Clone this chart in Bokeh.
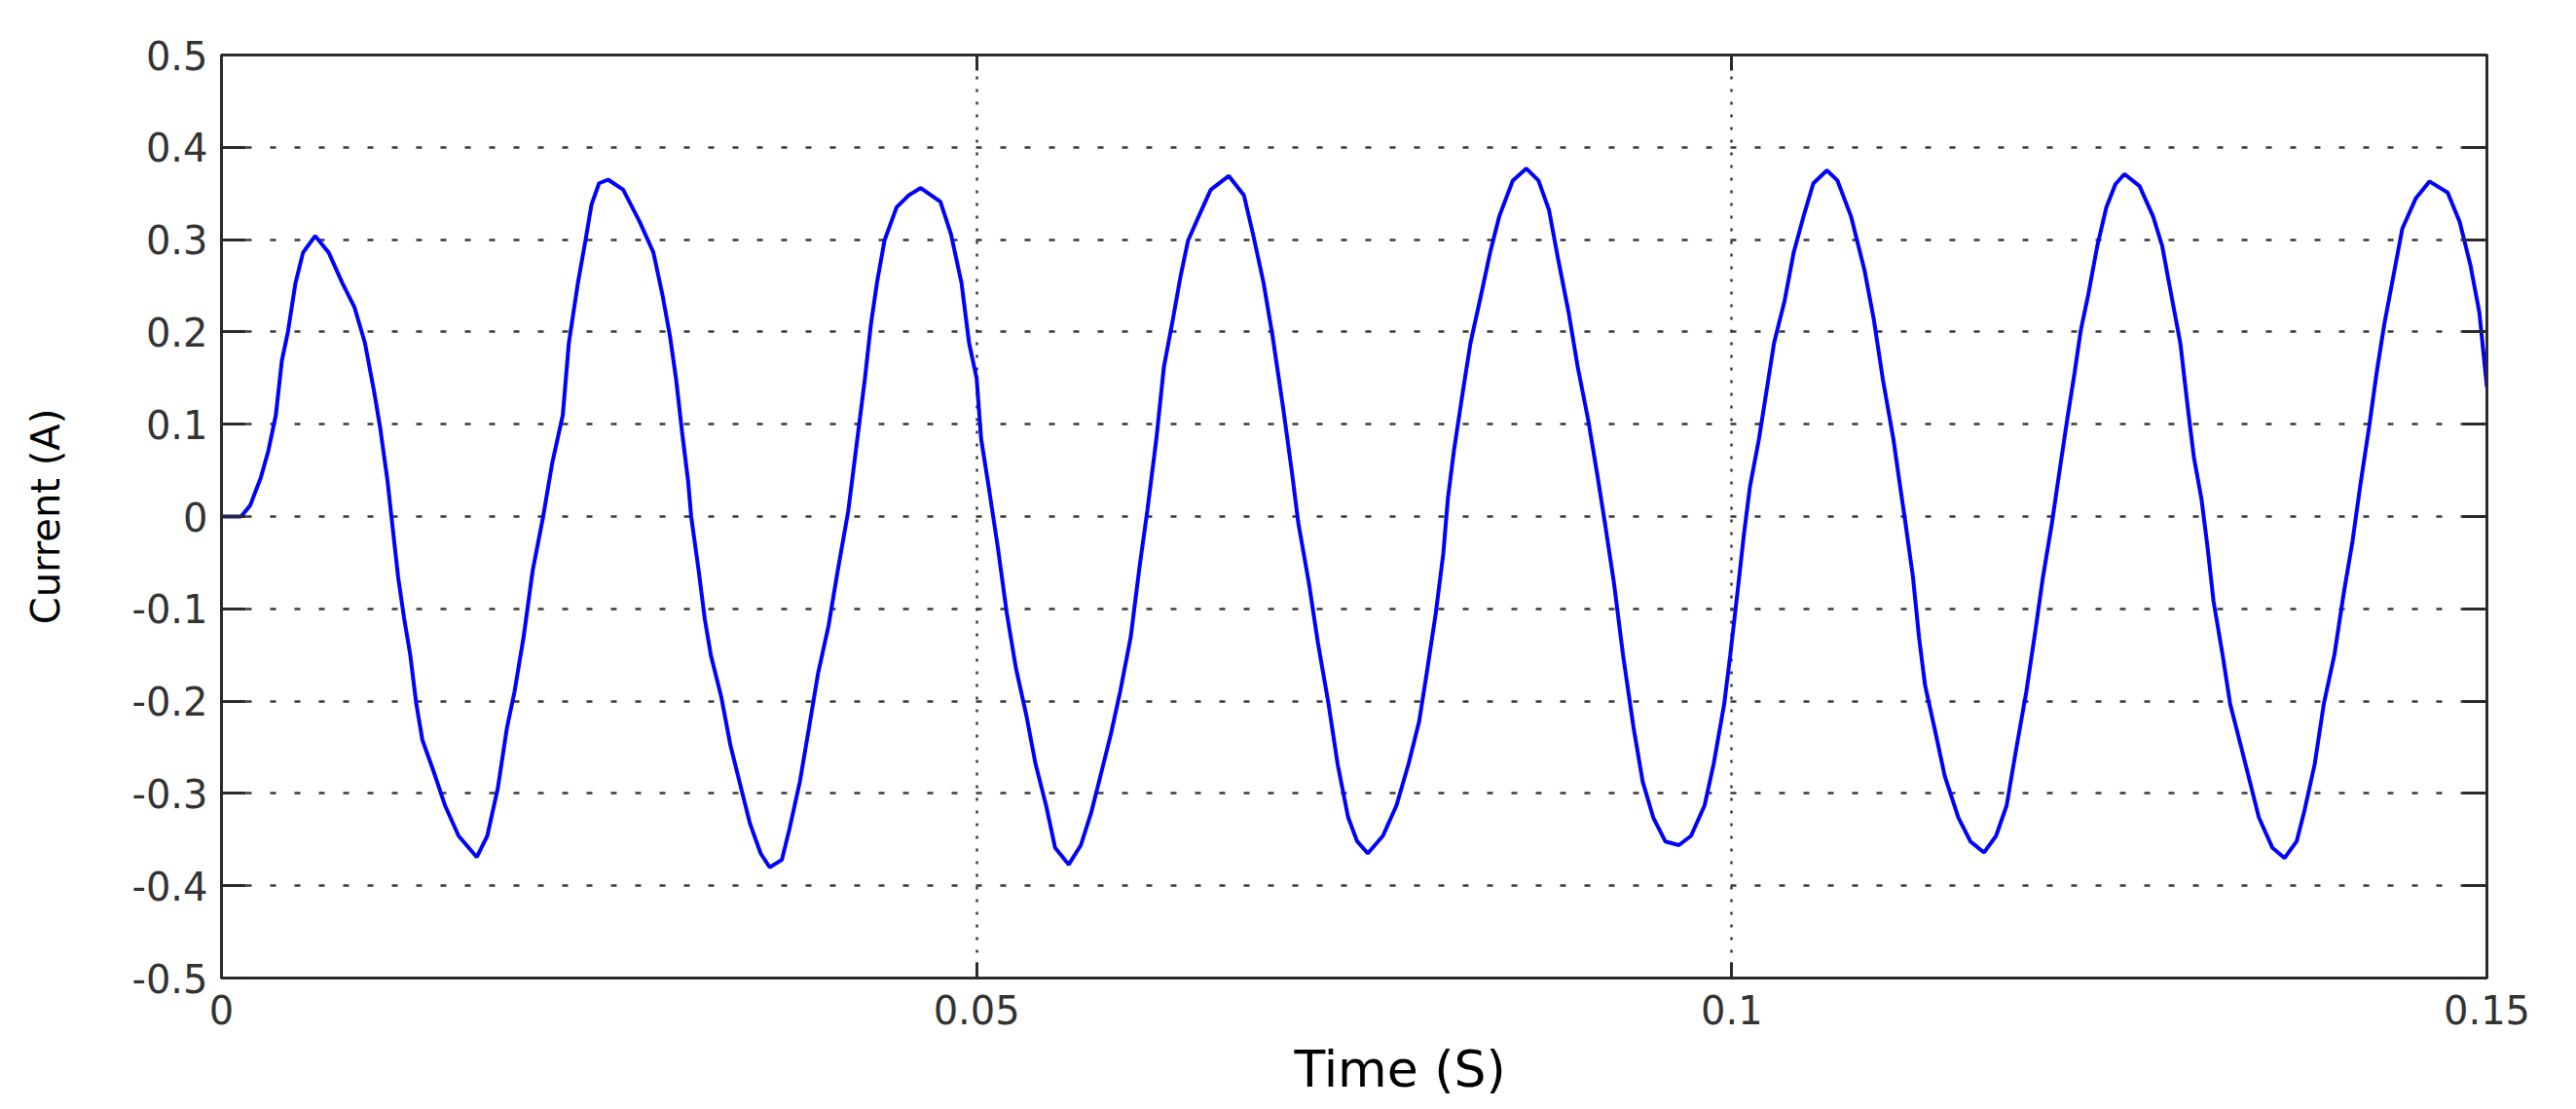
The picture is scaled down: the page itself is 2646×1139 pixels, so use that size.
from bokeh.plotting import figure
from bokeh.models import Range1d, FixedTicker, LinearAxis, CustomJSTickFormatter, Title
from bokeh.embed import file_html
from bokeh.resources import INLINE

# ---- data ----
time_s = [
    0.0000, 0.0013, 0.0019, 0.0026, 0.0031, 0.0036, 0.0040, 0.0044, 0.0049, 0.0054,
    0.0062, 0.0071, 0.0080, 0.0088, 0.0095, 0.0101, 0.0105, 0.0110, 0.0113, 0.0117,
    0.0121, 0.0125, 0.0129, 0.0133, 0.0140, 0.0148, 0.0157, 0.0169, 0.0176, 0.0183,
    0.0189, 0.0194, 0.0200, 0.0206, 0.0213, 0.0219, 0.0226, 0.0230, 0.0236, 0.0241,
    0.0245, 0.0250, 0.0256, 0.0266, 0.0277, 0.0286, 0.0292, 0.0297, 0.0301, 0.0305,
    0.0309, 0.0311, 0.0316, 0.0320, 0.0324, 0.0331, 0.0337, 0.0344, 0.0350, 0.0357,
    0.0363, 0.0371, 0.0376, 0.0383, 0.0389, 0.0395, 0.0402, 0.0408, 0.0415, 0.0420,
    0.0426, 0.0430, 0.0434, 0.0439, 0.0447, 0.0455, 0.0463, 0.0476, 0.0483, 0.0490,
    0.0495, 0.0500, 0.0503, 0.0508, 0.0514, 0.0520, 0.0526, 0.0533, 0.0539, 0.0546,
    0.0552, 0.0561, 0.0569, 0.0576, 0.0582, 0.0589, 0.0595, 0.0602, 0.0608, 0.0613,
    0.0619, 0.0624, 0.0630, 0.0635, 0.0640, 0.0647, 0.0655, 0.0667, 0.0677, 0.0683,
    0.0690, 0.0696, 0.0703, 0.0709, 0.0713, 0.0720, 0.0726, 0.0733, 0.0739, 0.0746,
    0.0752, 0.0759, 0.0769, 0.0778, 0.0786, 0.0793, 0.0798, 0.0804, 0.0809, 0.0812,
    0.0816, 0.0822, 0.0827, 0.0834, 0.0840, 0.0846, 0.0855, 0.0864, 0.0872, 0.0879,
    0.0885, 0.0892, 0.0898, 0.0905, 0.0911, 0.0916, 0.0922, 0.0928, 0.0935, 0.0941,
    0.0948, 0.0956, 0.0965, 0.0973, 0.0982, 0.0988, 0.0995, 0.0999, 0.1004, 0.1008,
    0.1012, 0.1018, 0.1023, 0.1028, 0.1035, 0.1041, 0.1048, 0.1054, 0.1063, 0.1070,
    0.1079, 0.1088, 0.1094, 0.1100, 0.1107, 0.1111, 0.1115, 0.1120, 0.1124, 0.1128,
    0.1135, 0.1141, 0.1150, 0.1158, 0.1167, 0.1175, 0.1182, 0.1188, 0.1195, 0.1201,
    0.1206, 0.1212, 0.1216, 0.1222, 0.1227, 0.1231, 0.1236, 0.1242, 0.1248, 0.1254,
    0.1260, 0.1270, 0.1279, 0.1285, 0.1291, 0.1297, 0.1302, 0.1306, 0.1311, 0.1315,
    0.1319, 0.1325, 0.1330, 0.1337, 0.1343, 0.1349, 0.1358, 0.1366, 0.1374, 0.1379,
    0.1386, 0.1392, 0.1399, 0.1405, 0.1411, 0.1416, 0.1422, 0.1427, 0.1432, 0.1438,
    0.1444, 0.1453, 0.1462, 0.1474, 0.1482, 0.1489, 0.1495, 0.1500,
]
current_a = [
    0.000, 0.000, 0.012, 0.042, 0.071, 0.110, 0.169, 0.200, 0.253, 0.286,
    0.304, 0.286, 0.253, 0.227, 0.188, 0.136, 0.097, 0.038, -0.007, -0.066,
    -0.111, -0.150, -0.203, -0.242, -0.274, -0.313, -0.346, -0.369, -0.346, -0.294,
    -0.229, -0.190, -0.131, -0.059, 0.000, 0.058, 0.110, 0.188, 0.253, 0.299,
    0.338, 0.361, 0.365, 0.354, 0.319, 0.286, 0.240, 0.195, 0.149, 0.091,
    0.038, 0.000, -0.059, -0.111, -0.150, -0.196, -0.248, -0.294, -0.333, -0.365,
    -0.380, -0.372, -0.339, -0.287, -0.229, -0.170, -0.118, -0.059, 0.006, 0.071,
    0.149, 0.208, 0.253, 0.299, 0.335, 0.348, 0.356, 0.341, 0.306, 0.253,
    0.188, 0.150, 0.084, 0.032, -0.033, -0.105, -0.164, -0.216, -0.268, -0.313,
    -0.359, -0.377, -0.356, -0.320, -0.281, -0.235, -0.190, -0.131, -0.053, 0.006,
    0.084, 0.162, 0.214, 0.260, 0.299, 0.325, 0.354, 0.369, 0.348, 0.306,
    0.253, 0.195, 0.117, 0.045, -0.007, -0.072, -0.137, -0.203, -0.268, -0.326,
    -0.352, -0.365, -0.346, -0.313, -0.268, -0.222, -0.170, -0.105, -0.040, 0.019,
    0.071, 0.136, 0.188, 0.240, 0.286, 0.325, 0.364, 0.377, 0.364, 0.332,
    0.279, 0.221, 0.162, 0.104, 0.045, -0.007, -0.072, -0.150, -0.229, -0.287,
    -0.326, -0.352, -0.356, -0.346, -0.313, -0.268, -0.203, -0.150, -0.079, -0.020,
    0.032, 0.084, 0.136, 0.188, 0.234, 0.286, 0.328, 0.361, 0.375, 0.364,
    0.325, 0.266, 0.214, 0.149, 0.084, 0.038, -0.007, -0.066, -0.131, -0.183,
    -0.235, -0.281, -0.326, -0.352, -0.364, -0.346, -0.313, -0.255, -0.190, -0.124,
    -0.066, -0.007, 0.038, 0.104, 0.156, 0.201, 0.240, 0.293, 0.335, 0.360,
    0.371, 0.358, 0.325, 0.293, 0.240, 0.188, 0.117, 0.064, 0.019, -0.033,
    -0.092, -0.150, -0.203, -0.248, -0.287, -0.326, -0.359, -0.370, -0.352, -0.320,
    -0.268, -0.203, -0.150, -0.085, -0.027, 0.032, 0.097, 0.156, 0.208, 0.260,
    0.312, 0.345, 0.363, 0.351, 0.319, 0.273, 0.221, 0.140,
]

x_ticks = [0.0, 0.05, 0.1, 0.15]
x_tick_labels = ["0", "0.05", "0.1", "0.15"]
y_ticks = [-0.5, -0.4, -0.3, -0.2, -0.1, 0.0, 0.1, 0.2, 0.3, 0.4, 0.5]
y_tick_labels = ["-0.5", "-0.4", "-0.3", "-0.2", "-0.1", "0", "0.1", "0.2", "0.3", "0.4", "0.5"]

x_label = "Time (S)"
y_label = "Current (A)"

FONT = "DejaVu Sans"
AXIS_COLOR = "#2b2b2b"

p = figure(
    frame_width=2327, frame_height=948,
    x_range=Range1d(0, 0.15), y_range=Range1d(-0.5, 0.5),
    output_backend="svg", toolbar_location=None,
    min_border_left=227, min_border_right=60, min_border_top=56, min_border_bottom=60,
    background_fill_color="white", border_fill_color="white",
)
p.outline_line_color = AXIS_COLOR
p.outline_line_width = 3

p.line(time_s, current_a, line_color="#0000ff", line_width=4)

# bottom axis
xa = p.xaxis[0]
xa.ticker = FixedTicker(ticks=x_ticks)
xa.major_label_overrides = {t: l for t, l in zip(x_ticks, x_tick_labels)}
xa.minor_tick_line_color = None
xa.major_tick_in = 16
xa.major_tick_out = 0
xa.major_tick_line_width = 3
xa.major_tick_line_color = AXIS_COLOR
xa.axis_line_width = 3
xa.axis_line_color = AXIS_COLOR
xa.major_label_text_font = FONT
xa.major_label_text_font_size = "40px"
xa.major_label_text_color = "#333333"
xa.major_label_standoff = 17

# x-axis title, sitting slightly right of centre as in the reference
p.add_layout(Title(
    text=x_label, align="left", offset=1102, standoff=22,
    text_font=FONT, text_font_size="52px", text_color="black",
    text_font_style="normal",
), "below")

# left axis
ya = p.yaxis[0]
ya.ticker = FixedTicker(ticks=y_ticks)
ya.major_label_overrides = {t: l for t, l in zip(y_ticks, y_tick_labels)}
ya.minor_tick_line_color = None
ya.major_tick_in = 25
ya.major_tick_out = 0
ya.major_tick_line_width = 3
ya.major_tick_line_color = AXIS_COLOR
ya.axis_line_width = 3
ya.axis_line_color = AXIS_COLOR
ya.major_label_text_font = FONT
ya.major_label_text_font_size = "40px"
ya.major_label_text_color = "#333333"
ya.major_label_standoff = 14
ya.axis_label = y_label
ya.axis_label_text_font = FONT
ya.axis_label_text_font_style = "normal"
ya.axis_label_text_font_size = "40px"
ya.axis_label_text_color = "black"
ya.axis_label_standoff = 62

# right and top axes: ticks only
empty = CustomJSTickFormatter(code="return ''")
ra = LinearAxis(ticker=FixedTicker(ticks=y_ticks), formatter=empty,
                major_tick_in=25, major_tick_out=0, minor_tick_line_color=None,
                major_tick_line_width=3, major_tick_line_color=AXIS_COLOR,
                axis_line_width=3, axis_line_color=AXIS_COLOR,
                major_label_standoff=0)
p.add_layout(ra, "right")
ta = LinearAxis(ticker=FixedTicker(ticks=x_ticks), formatter=empty,
                major_tick_in=16, major_tick_out=0, minor_tick_line_color=None,
                major_tick_line_width=3, major_tick_line_color=AXIS_COLOR,
                axis_line_width=3, axis_line_color=AXIS_COLOR,
                major_label_standoff=0)
p.add_layout(ta, "above")

# grids (dotted)
p.xgrid.ticker = FixedTicker(ticks=[0.05, 0.1])
p.xgrid.grid_line_color = "#3a3a3a"
p.xgrid.grid_line_width = 2.5
p.xgrid.grid_line_dash = "3 10"
p.ygrid.ticker = FixedTicker(ticks=[-0.4, -0.3, -0.2, -0.1, 0.0, 0.1, 0.2, 0.3, 0.4])
p.ygrid.grid_line_color = "#3a3a3a"
p.ygrid.grid_line_width = 2.5
p.ygrid.grid_line_dash = "6 19"

open("out.html", "w").write(file_html(p, INLINE))
